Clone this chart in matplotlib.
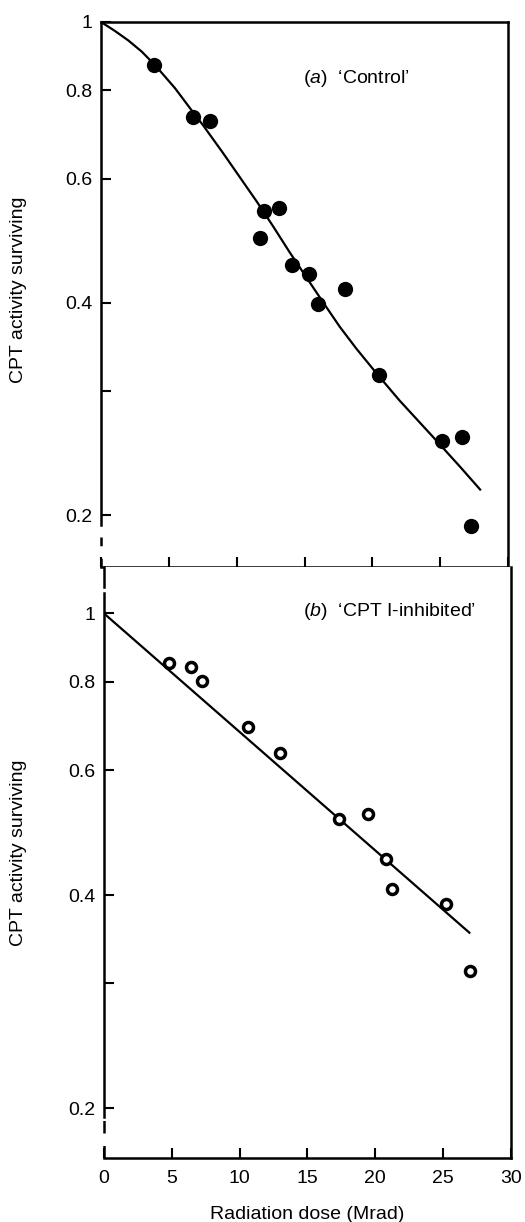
import matplotlib
matplotlib.use('Agg')
import matplotlib.pyplot as plt
from matplotlib.ticker import FixedLocator, NullLocator

plt.rcParams['font.family'] = ['Liberation Sans', 'DejaVu Sans']
plt.rcParams['mathtext.fontset'] = 'custom'
plt.rcParams['mathtext.rm'] = 'Liberation Sans'
plt.rcParams['mathtext.it'] = 'Liberation Sans:italic'

# (a) control: points and fitted shoulder curve
ctrl_dose = [3.9, 6.8, 8.0, 11.7, 12.0, 13.1, 14.1, 15.3, 16.0, 18.0, 20.5, 25.1, 26.6, 27.3]
ctrl_act = [0.869, 0.734, 0.725, 0.495, 0.540, 0.546, 0.453, 0.439, 0.398, 0.418, 0.316, 0.255, 0.258, 0.193]
ctrl_fit_dose = [0, 1.0, 2.0, 3.0, 4.0, 5.45, 6.9, 7.5, 9.0, 10.2, 11.5, 12.7, 13.9,
                 15.2, 16.4, 17.6, 18.8, 20.3, 22.0, 24.5, 26.5, 28.0]
ctrl_fit_act = [1.0, 0.972, 0.942, 0.908, 0.868, 0.806, 0.740, 0.715, 0.652, 0.604, 0.556, 0.513, 0.472,
                0.433, 0.400, 0.370, 0.345, 0.318, 0.291, 0.258, 0.234, 0.217]

# (b) CPT I-inhibited: points and fitted line
inh_dose = [4.8, 6.4, 7.2, 10.6, 13.0, 17.3, 19.5, 20.8, 21.2, 25.2, 27.0]
inh_act = [0.851, 0.839, 0.803, 0.691, 0.634, 0.512, 0.520, 0.449, 0.408, 0.389, 0.312]
inh_fit_dose = [0, 27.0]
inh_fit_act = [1.0, 0.353]

x_ticks = [0, 5, 10, 15, 20, 25, 30]
y_ticks = [0.2, 0.3, 0.4, 0.6, 0.8, 1.0]
y_tick_labels = ['0.2', '', '0.4', '0.6', '0.8', '1']

fig = plt.figure(figsize=(5.25, 12.22), dpi=100)
ax1 = fig.add_axes([0.1924, 0.536, 0.7752, 0.446])
ax2 = fig.add_axes([0.198, 0.0524, 0.7752, 0.4836])

lw = 1.8
fs = 14

for ax in (ax1, ax2):
    ax.set_yscale('log')
    ax.set_xlim(0, 30)
    ax.yaxis.set_major_locator(FixedLocator(y_ticks))
    ax.yaxis.set_minor_locator(NullLocator())
    ax.set_yticklabels(y_tick_labels)
    ax.set_xticks(x_ticks)
    ax.tick_params(direction='in', length=7.5, width=1.5, labelsize=fs, pad=6)
    ax.tick_params(axis='x', pad=9)
    for s in ax.spines.values():
        s.set_linewidth(lw)
    ax.set_ylabel('CPT activity surviving', fontsize=fs)

ax1.set_ylim(0.169, 1.0)
ax2.set_ylim(0.170, 1.163)

ax1.plot(ctrl_fit_dose, ctrl_fit_act, color='black', lw=1.6, solid_capstyle='butt')
ax1.plot(ctrl_dose, ctrl_act, 'o', color='black', ms=11, mew=0)
ax1.tick_params(axis='x', labelbottom=False)
ax1.text(0.496, 0.897, "($\\it{a}$)  \u2018Control\u2019", transform=ax1.transAxes,
         fontsize=fs, va='center', ha='left')

ax2.plot(inh_fit_dose, inh_fit_act, color='black', lw=1.6, solid_capstyle='butt')
ax2.plot(inh_dose, inh_act, 'o', color='black', mfc='white', mec='black', ms=7.2, mew=2.5)
ax2.text(0.489, 0.924, "($\\it{b}$)  \u2018CPT I-inhibited\u2019", transform=ax2.transAxes,
         fontsize=fs, va='center', ha='left')
ax2.spines['top'].set_visible(False)
ax2.set_xlabel('Radiation dose (Mrad)', fontsize=fs, labelpad=13)

ax1.yaxis.set_label_coords(-0.182, 0.508)
ax2.yaxis.set_label_coords(-0.189, 0.516)

# broken left axis
ax1.spines['left'].set_bounds(0.194, 1.0)
t1 = ax1.get_yaxis_transform()
ax1.plot([0, 0], [0.169, 0.194], transform=t1, color='black', lw=lw,
         ls=(0, (3.5, 5)), clip_on=False, solid_capstyle='butt')

ax2.spines['left'].set_bounds(0.1945, 1.068)
t2 = ax2.get_yaxis_transform()
ax2.plot([0, 0], [1.089, 1.163], transform=t2, color='black', lw=lw, clip_on=False)
ax2.plot([0, 0], [0.170, 0.1945], transform=t2, color='black', lw=lw,
         ls=(0, (5, 5)), clip_on=False, solid_capstyle='butt')

fig.savefig('out.png', dpi=100)
